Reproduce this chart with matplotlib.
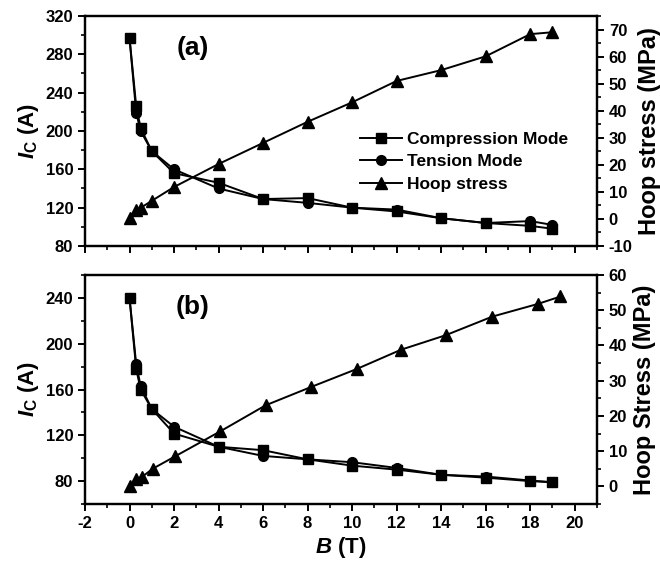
import matplotlib
matplotlib.use('Agg')
import matplotlib.pyplot as plt
from matplotlib.ticker import MultipleLocator
from matplotlib.lines import Line2D

plt.rcParams['font.family'] = 'Liberation Sans'
plt.rcParams['font.weight'] = 'bold'
plt.rcParams['axes.unicode_minus'] = False
plt.rcParams['mathtext.fontset'] = 'custom'
plt.rcParams['mathtext.rm'] = 'Liberation Sans:bold'
plt.rcParams['mathtext.it'] = 'Liberation Sans:bold:italic'
plt.rcParams['mathtext.bf'] = 'Liberation Sans:bold'

# panel (a)
Ba = [0, 0.3, 0.5, 1, 2, 4, 6, 8, 10, 12, 14, 16, 18, 19]
comp_a = [297, 226, 203, 179, 156, 146, 129, 130, 120, 116, 109, 104, 101, 98]
tens_a = [297, 219, 200, 179, 160, 140, 129, 125, 120, 118, 109, 104, 106, 102]
hoop_a = [0.4, 3.2, 4.1, 6.7, 11.8, 20.3, 28.1, 35.9, 43.1, 51, 55, 60.1, 68.3, 69]

# panel (b)
Bb = [0, 0.3, 0.5, 1, 2, 4, 6, 8, 10, 12, 14, 16, 18, 19]
comp_b = [240, 178, 160, 143, 121.5, 110, 107, 99, 93.5, 90, 85.5, 83, 80, 79]
tens_b = [240, 182, 163, 143, 127.5, 110, 102, 99, 96.5, 91.5, 85.5, 84, 80.5, 79]
Bh_b = [0, 0.3, 0.54, 1.04, 2.04, 4.07, 6.11, 8.15, 10.2, 12.2, 14.2, 16.3, 18.35, 19.36]
hoop_b = [0, 2.0, 2.6, 5.0, 8.5, 15.6, 23.0, 28.2, 33.3, 38.8, 42.9, 48.2, 51.8, 53.9]

fig = plt.figure(figsize=(6.6, 5.67), dpi=100)
W, H = 660, 567
axa = fig.add_axes([85 / W, 1 - 246 / H, 512 / W, 230 / H])
axb = fig.add_axes([85 / W, 1 - 504 / H, 512 / W, 229 / H])

ms = 7
lw = 1.4

def style(ax):
    for s in ax.spines.values():
        s.set_linewidth(1.6)
    ax.tick_params(which='major', direction='out', length=5, width=1.4, labelsize=12)
    ax.tick_params(which='minor', direction='out', length=3, width=1.2)


def panel(ax, Bc, comp, tens, Bh, hoop, ylim, yticks, hylim, hlabel, tag, xlabels):
    ax.plot(Bc, comp, 's-', color='k', ms=ms, lw=lw)
    ax.plot(Bc, tens, 'o-', color='k', ms=ms, lw=lw)
    ax.set_xlim(-2, 21)
    ax.set_ylim(*ylim)
    ax.set_yticks(yticks)
    ax.yaxis.set_minor_locator(MultipleLocator(20))
    ax.xaxis.set_major_locator(MultipleLocator(2))
    ax.xaxis.set_minor_locator(MultipleLocator(1))
    ax.set_ylabel(r'$I_\mathrm{C}$ (A)', fontsize=16, fontweight='bold', labelpad=3)
    if not xlabels:
        ax.tick_params(axis='x', labelbottom=False)
    style(ax)
    tw = ax.twinx()
    tw.plot(Bh, hoop, '^-', color='k', ms=ms + 1, lw=lw)
    tw.set_ylim(*hylim)
    tw.yaxis.set_major_locator(MultipleLocator(10))
    tw.yaxis.set_minor_locator(MultipleLocator(5))
    tw.set_ylabel(hlabel, fontsize=17, fontweight='bold', labelpad=4)
    style(tw)
    ax.text(2.85, ylim[0] + (ylim[1] - ylim[0]) * 0.86, tag, fontsize=19,
            fontweight='bold', ha='center', va='center')
    return tw

twa = panel(axa, Ba, comp_a, tens_a, Ba, hoop_a, (80, 320), range(80, 321, 40),
            (-10, 75), 'Hoop stress (MPa)', '(a)', False)
twb = panel(axb, Bb, comp_b, tens_b, Bh_b, hoop_b, (60, 260), range(80, 241, 40),
            (-5, 60), 'Hoop Stress (MPa)', '(b)', True)

axb.set_xlabel(r'$B$ (T)', fontsize=16, fontweight='bold', labelpad=3)

handles = [Line2D([], [], color='k', marker='s', ms=ms, lw=lw),
           Line2D([], [], color='k', marker='o', ms=ms, lw=lw),
           Line2D([], [], color='k', marker='^', ms=ms + 1, lw=lw)]
twa.legend(handles, ['Compression Mode', 'Tension Mode', 'Hoop stress'],
           loc='upper left', bbox_to_anchor=(0.538, 0.498), frameon=False,
           fontsize=12.5, handlelength=2.4, handletextpad=0.3, labelspacing=0.43,
           borderpad=0, borderaxespad=0)

fig.savefig('out.png', dpi=100)
